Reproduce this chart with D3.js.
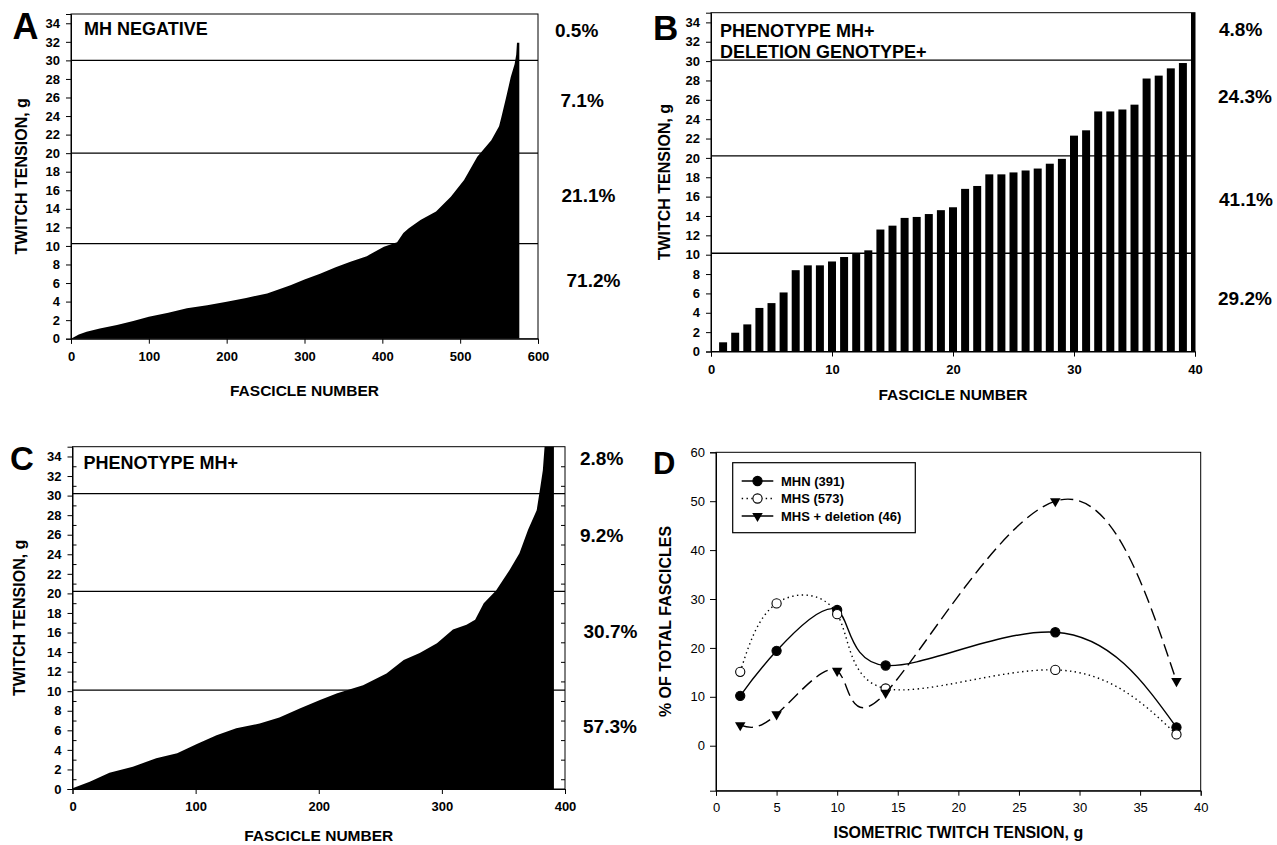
<!DOCTYPE html>
<html>
<head>
<meta charset="utf-8">
<script src="https://cdn.jsdelivr.net/npm/d3@7"></script>
<style>
  body { margin: 0; background: #fff; }
  svg { display: block; font-family: "Liberation Sans", Arial, Helvetica, sans-serif; }
</style>
</head>
<body>
<div id="graph"></div>
<script>
'use strict';

// ---- data ----

// A: MH negative, outline of the sorted twitch tensions (fascicle number, g)
const aFascicle = [0, 10, 20, 37, 59, 80, 100, 125, 149, 175, 200, 225, 252, 282, 300, 320, 340, 359, 380, 402,
  419, 427, 434, 449, 469, 488, 505, 522, 540, 550, 553, 559, 565, 570, 572, 573, 576];
const aTension = [0, 0.45, 0.75, 1.1, 1.47, 1.9, 2.37, 2.8, 3.27, 3.6, 3.98, 4.4, 4.88, 5.77, 6.38, 7.0, 7.7, 8.3, 8.9, 9.9,
  10.4, 11.4, 11.9, 12.8, 13.7, 15.3, 17.1, 19.6, 21.4, 22.9, 23.9, 26.0, 28.2, 29.6, 30.6, 31.9, 31.9];
const aThresholds = [10.25, 20, 30];
const aPercents = ['0.5%', '7.1%', '21.1%', '71.2%'];

// B: phenotype MH+ / deletion genotype+, one bar per fascicle
const bFascicle = [1, 2, 3, 4, 5, 6, 7, 8, 9, 10, 11, 12, 13, 14, 15, 16, 17, 18, 19, 20,
  21, 22, 23, 24, 25, 26, 27, 28, 29, 30, 31, 32, 33, 34, 35, 36, 37, 38, 39, 40];
const bTension = [0.95, 1.94, 2.8, 4.5, 5.0, 6.1, 8.4, 8.9, 8.9, 9.3, 9.76, 10.07, 10.45, 12.6, 13.0, 13.8, 13.9, 14.2, 14.6, 14.9,
  16.8, 17.1, 18.3, 18.3, 18.5, 18.7, 18.9, 19.4, 19.9, 22.3, 22.85, 24.8, 24.8, 25.0, 25.5, 28.2, 28.5, 29.25, 29.8, 36];
const bThresholds = [10.15, 20.2, 30.1];
const bPercents = ['4.8%', '24.3%', '41.1%', '29.2%'];

// C: phenotype MH+, outline of the sorted twitch tensions
const cFascicle = [0, 14, 30, 49, 68, 85, 101, 117, 133, 152, 168, 185, 201, 215, 236, 255, 269, 282, 296, 309,
  320, 327, 334, 344, 355, 363, 370, 377, 380, 382, 384, 391];
const cTension = [0.07, 0.75, 1.67, 2.28, 3.14, 3.65, 4.6, 5.5, 6.2, 6.7, 7.3, 8.25, 9.1, 9.78, 10.6, 11.8, 13.2, 13.9, 14.9, 16.3,
  16.8, 17.3, 19.0, 20.3, 22.4, 24.1, 26.5, 28.5, 30.9, 32.6, 36, 36];
const cThresholds = [10.1, 20.2, 30.2];
const cPercents = ['2.8%', '9.2%', '30.7%', '57.3%'];

// D: % of total fascicles vs isometric twitch tension
const dTension = [2, 5, 10, 14, 28, 38];
const dMHN = [10.2, 19.4, 27.75, 16.4, 23.2, 3.75];
const dMHS = [15.1, 29.1, 26.9, 11.7, 15.5, 2.3];
const dDeletion = [4.2, 6.4, 15.3, 10.8, 50.0, 13.2];
const dSeriesNames = ['MHN (391)', 'MHS (573)', 'MHS + deletion (46)'];

// tick labels
const tensionTicks = [0, 2, 4, 6, 8, 10, 12, 14, 16, 18, 20, 22, 24, 26, 28, 30, 32, 34];
const minorTicks = [1, 3, 5, 7, 9, 11, 13, 15, 17, 19, 21, 23, 25, 27, 29, 31, 33];
const aXTicks = [0, 100, 200, 300, 400, 500, 600];
const bXTicks = [0, 10, 20, 30, 40];
const cXTicks = [0, 100, 200, 300, 400];
const dXTicks = [0, 5, 10, 15, 20, 25, 30, 35, 40];
const dYTicks = [0, 10, 20, 30, 40, 50, 60];

(function() {

  let svg = null;

  svg = d3.select('#graph')
    .append('svg')
    .attr('width', 1277)
    .attr('height', 845);

  drawSortedPanel({
    id: 'a', left: 71, right: 538, top: 14, bottom: 338.7, xMax: 600, xTicks: aXTicks,
    fascicle: aFascicle, tension: aTension, thresholds: aThresholds,
    percents: aPercents, percentPos: [[555, 37], [560.5, 106.5], [561.5, 202], [566.5, 286.5]],
    title: ['MH NEGATIVE'], titlePos: [84, 35], letter: 'A', letterPos: [12.5, 39.3], letterSize: 36,
    yLabelX: 21, xLabelY: 396, minor: false
  });

  drawBarPanel({
    id: 'b', left: 711, right: 1195, top: 12.7, bottom: 351.5, xMax: 40, xTicks: bXTicks,
    thresholds: bThresholds,
    percents: bPercents, percentPos: [[1219, 36], [1218, 103], [1219, 206], [1218, 305]],
    title: ['PHENOTYPE MH+', 'DELETION GENOTYPE+'], titlePos: [720, 36.5], letter: 'B', letterPos: [653, 40], letterSize: 35,
    yLabelX: 664, xLabelY: 400
  });

  drawSortedPanel({
    id: 'c', left: 72.5, right: 565, top: 446.7, bottom: 789, xMax: 400, xTicks: cXTicks,
    fascicle: cFascicle, tension: cTension, thresholds: cThresholds,
    percents: cPercents, percentPos: [[580, 465], [580, 541.5], [583.5, 638], [583, 733]],
    title: ['PHENOTYPE MH+'], titlePos: [83.5, 469], letter: 'C', letterPos: [10, 470], letterSize: 33,
    yLabelX: 19, xLabelY: 841, minor: true
  });

  drawCurvePanel({ left: 716, right: 1200.7, top: 452.3, bottom: 790.7 });

  // style an axis group
  function styleAxis(g, size, weight) {
    g.select('.domain').attr('stroke', '#000').attr('stroke-width', 1);
    g.selectAll('.tick line').attr('stroke', '#000').attr('stroke-width', 1);
    g.selectAll('.tick text')
      .attr('fill', '#000')
      .style('font-size', size + 'px')
      .style('font-weight', weight);
  }

  // shared frame for panels A, B, C: axes, box, threshold lines and labels
  function drawTensionFrame(cfg, x, y) {
    let g = svg.append('g').attr('class', 'panel-' + cfg.id);

    // threshold lines
    g.selectAll('.threshold')
      .data(cfg.thresholds)
      .enter()
      .append('line')
        .attr('x1', cfg.left)
        .attr('x2', cfg.right)
        .attr('y1', (d) => y(d))
        .attr('y2', (d) => y(d))
        .attr('stroke', '#000')
        .attr('stroke-width', 1.3);

    // plot box
    g.append('rect')
      .attr('x', cfg.left)
      .attr('y', cfg.top)
      .attr('width', cfg.right - cfg.left)
      .attr('height', cfg.bottom - cfg.top)
      .attr('fill', 'none')
      .attr('stroke', '#000')
      .attr('stroke-width', 1);

    let yAxis = d3.axisLeft(y).tickValues(tensionTicks).tickFormat(d3.format('d'))
      .tickSize(5).tickPadding(6);
    styleAxis(g.append('g').attr('transform', 'translate(' + cfg.left + ',0)').call(yAxis), 13, 'bold');

    let xAxis = d3.axisBottom(x).tickValues(cfg.xTicks).tickFormat(d3.format('d'))
      .tickSize(5).tickPadding(8);
    styleAxis(g.append('g').attr('transform', 'translate(0,' + cfg.bottom + ')').call(xAxis), 13, 'bold');

    if (cfg.minor) {
      // small inward ticks at the odd values on both sides
      let inL = d3.axisLeft(y).tickValues(minorTicks).tickSize(-4).tickFormat('');
      let gl = g.append('g').attr('transform', 'translate(' + cfg.left + ',0)').call(inL);
      gl.select('.domain').remove();
      gl.selectAll('.tick line').attr('stroke', '#000');
      let inR = d3.axisRight(y).tickValues(minorTicks).tickSize(-4).tickFormat('');
      let gr = g.append('g').attr('transform', 'translate(' + cfg.right + ',0)').call(inR);
      gr.select('.domain').remove();
      gr.selectAll('.tick line').attr('stroke', '#000');
    }

    // percentage of fascicles in each tension band
    g.selectAll('.pct')
      .data(cfg.percents)
      .enter()
      .append('text')
        .attr('x', (d, i) => cfg.percentPos[i][0])
        .attr('y', (d, i) => cfg.percentPos[i][1])
        .style('font-size', '19px')
        .style('font-weight', 'bold')
        .text((d) => d);

    // panel title
    g.selectAll('.title')
      .data(cfg.title)
      .enter()
      .append('text')
        .attr('x', cfg.titlePos[0])
        .attr('y', (d, i) => cfg.titlePos[1] + i * 21.5)
        .style('font-size', '18px')
        .style('font-weight', 'bold')
        .text((d) => d);

    // panel letter
    g.append('text')
      .attr('x', cfg.letterPos[0])
      .attr('y', cfg.letterPos[1])
      .style('font-size', cfg.letterSize + 'px')
      .style('font-weight', 'bold')
      .text(cfg.letter);

    // axis titles
    g.append('text')
      .attr('transform', 'translate(' + cfg.yLabelX + ',' + ((cfg.top + cfg.bottom) / 2) + ')rotate(-90)')
      .attr('text-anchor', 'middle')
      .attr('dy', '0.36em')
      .style('font-size', '16px')
      .style('font-weight', 'bold')
      .text('TWITCH TENSION, g');

    g.append('text')
      .attr('x', (cfg.left + cfg.right) / 2)
      .attr('y', cfg.xLabelY)
      .attr('text-anchor', 'middle')
      .style('font-size', '15.5px')
      .style('font-weight', 'bold')
      .text('FASCICLE NUMBER');

    return g;
  }

  function addClip(id, cfg) {
    svg.append('clipPath')
      .attr('id', 'clip-' + id)
      .append('rect')
        .attr('x', cfg.left)
        .attr('y', cfg.top)
        .attr('width', cfg.right - cfg.left)
        .attr('height', cfg.bottom - cfg.top);
    return 'url(#clip-' + id + ')';
  }

  // panels A and C: black area under the sorted tensions
  function drawSortedPanel(cfg) {
    let x = d3.scaleLinear().domain([0, cfg.xMax]).range([cfg.left, cfg.right]);
    let y = d3.scaleLinear().domain([0, 35]).range([cfg.bottom, cfg.top]);
    let clip = addClip(cfg.id, cfg);

    let pts = cfg.fascicle.map((f, i) => [f, cfg.tension[i]]);
    let area = d3.area()
      .x((d) => x(d[0]))
      .y0(y(0))
      .y1((d) => y(d[1]));

    svg.append('path')
      .datum(pts)
      .attr('d', area)
      .attr('fill', '#000')
      .attr('clip-path', clip);

    drawTensionFrame(cfg, x, y);
  }

  // panel B: one bar per fascicle
  function drawBarPanel(cfg) {
    let x = d3.scaleLinear().domain([0, cfg.xMax]).range([cfg.left, cfg.right]);
    let y = d3.scaleLinear().domain([0, 35]).range([cfg.bottom, cfg.top]);
    let clip = addClip(cfg.id, cfg);
    let bw = x(0.66) - x(0);

    svg.append('g')
      .attr('clip-path', clip)
      .selectAll('.bar')
      .data(bFascicle)
      .enter()
      .append('rect')
        .attr('x', (d) => x(d) - bw / 2)
        .attr('y', (d, i) => y(bTension[i]))
        .attr('width', bw)
        .attr('height', (d, i) => y(0) - y(bTension[i]))
        .attr('fill', '#000');

    drawTensionFrame(cfg, x, y);
  }

  // panel D: distribution curves
  function drawCurvePanel(cfg) {
    let x = d3.scaleLinear().domain([0, 40]).range([cfg.left, cfg.right]);
    let y = d3.scaleLinear().domain([-9.2, 60]).range([cfg.bottom, cfg.top]);
    let g = svg.append('g').attr('class', 'panel-d');

    g.append('rect')
      .attr('x', cfg.left)
      .attr('y', cfg.top)
      .attr('width', cfg.right - cfg.left)
      .attr('height', cfg.bottom - cfg.top)
      .attr('fill', 'none')
      .attr('stroke', '#000')
      .attr('stroke-width', 1);

    let yAxis = d3.axisLeft(y).tickValues(dYTicks).tickSize(6).tickPadding(5);
    styleAxis(g.append('g').attr('transform', 'translate(' + cfg.left + ',0)').call(yAxis), 13, 'normal');
    let xAxis = d3.axisBottom(x).tickValues(dXTicks).tickSize(5).tickPadding(7);
    styleAxis(g.append('g').attr('transform', 'translate(0,' + cfg.bottom + ')').call(xAxis), 13, 'normal');

    let line = d3.line()
      .x((d) => x(d[0]))
      .y((d) => y(d[1]))
      .curve(d3.curveNatural);

    let series = [
      { values: dMHN, dash: null, marker: 'dot' },
      { values: dMHS, dash: '1.4,3.4', marker: 'ring' },
      { values: dDeletion, dash: '13,6', marker: 'tri' }
    ];

    series.forEach((s) => {
      let pts = dTension.map((t, i) => [t, s.values[i]]);
      g.append('path')
        .datum(pts)
        .attr('d', line)
        .attr('fill', 'none')
        .attr('stroke', '#000')
        .attr('stroke-width', 1.4)
        .attr('stroke-dasharray', s.dash);
      drawMarkers(g, pts.map((p) => [x(p[0]), y(p[1])]), s.marker);
    });

    // legend
    let lg = g.append('g');
    lg.append('rect')
      .attr('x', 732.7).attr('y', 462.7)
      .attr('width', 182.6).attr('height', 70)
      .attr('fill', '#fff')
      .attr('stroke', '#000')
      .attr('stroke-width', 1.2);

    let legendDash = [null, '1.4,3.4', null];
    let legendMarker = ['dot', 'ring', 'tri'];
    dSeriesNames.forEach((name, i) => {
      let cy = 481 + i * 17.5;
      lg.append('line')
        .attr('x1', 741.7).attr('x2', 773.3)
        .attr('y1', cy).attr('y2', cy)
        .attr('stroke', '#000')
        .attr('stroke-width', 1.4)
        .attr('stroke-dasharray', legendDash[i]);
      drawMarkers(lg, [[757.5, cy]], legendMarker[i]);
      lg.append('text')
        .attr('x', 781)
        .attr('y', cy)
        .attr('dy', '0.36em')
        .style('font-size', '13px')
        .style('font-weight', 'bold')
        .text(name);
    });

    // letter and axis titles
    g.append('text')
      .attr('x', 653).attr('y', 473.5)
      .style('font-size', '31px')
      .style('font-weight', 'bold')
      .text('D');

    g.append('text')
      .attr('transform', 'translate(665,' + ((cfg.top + cfg.bottom) / 2) + ')rotate(-90)')
      .attr('text-anchor', 'middle')
      .attr('dy', '0.36em')
      .style('font-size', '16px')
      .style('font-weight', 'bold')
      .text('% OF TOTAL FASCICLES');

    g.append('text')
      .attr('x', (cfg.left + cfg.right) / 2)
      .attr('y', 838)
      .attr('text-anchor', 'middle')
      .style('font-size', '16px')
      .style('font-weight', 'bold')
      .text('ISOMETRIC TWITCH TENSION, g');
  }

  function drawMarkers(g, pixels, kind) {
    if (kind === 'tri') {
      g.selectAll(null)
        .data(pixels)
        .enter()
        .append('path')
          .attr('d', d3.symbol().type(d3.symbolTriangle).size(48))
          .attr('transform', (d) => 'translate(' + d[0] + ',' + d[1] + ')rotate(180)')
          .attr('fill', '#000');
      return;
    }
    g.selectAll(null)
      .data(pixels)
      .enter()
      .append('circle')
        .attr('cx', (d) => d[0])
        .attr('cy', (d) => d[1])
        .attr('r', 4.6)
        .attr('fill', kind === 'dot' ? '#000' : '#fff')
        .attr('stroke', '#000')
        .attr('stroke-width', 1.1);
  }

})();
</script>
</body>
</html>
